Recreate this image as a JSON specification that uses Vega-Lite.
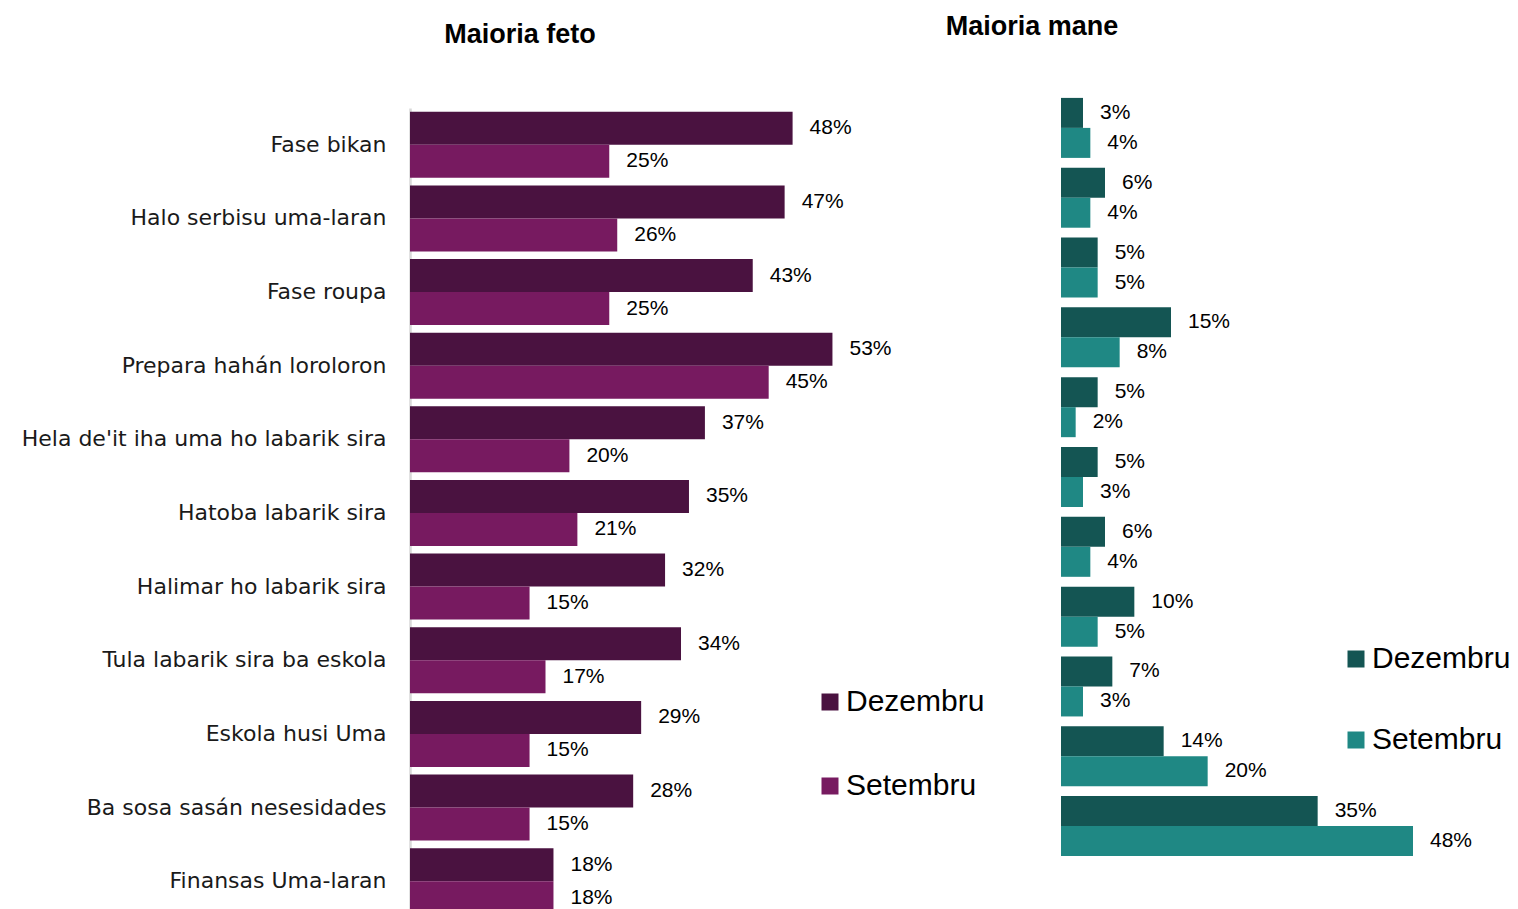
{
  "$schema": "https://vega.github.io/schema/vega-lite/v6.json",
  "background": "white",
  "padding": {"left": 21, "top": 12, "right": 0, "bottom": 0},
  "config": {
    "view": {"stroke": null},
    "font": "Liberation Sans"
  },
  "datasets": {
    "feto": [
      {"kategoria": "Fase bikan", "fulan": "Dezembru", "v": 0.48},
      {"kategoria": "Fase bikan", "fulan": "Setembru", "v": 0.25},
      {"kategoria": "Halo serbisu uma-laran", "fulan": "Dezembru", "v": 0.47},
      {"kategoria": "Halo serbisu uma-laran", "fulan": "Setembru", "v": 0.26},
      {"kategoria": "Fase roupa", "fulan": "Dezembru", "v": 0.43},
      {"kategoria": "Fase roupa", "fulan": "Setembru", "v": 0.25},
      {"kategoria": "Prepara hahán loroloron", "fulan": "Dezembru", "v": 0.53},
      {"kategoria": "Prepara hahán loroloron", "fulan": "Setembru", "v": 0.45},
      {"kategoria": "Hela de'it iha uma ho labarik sira", "fulan": "Dezembru", "v": 0.37},
      {"kategoria": "Hela de'it iha uma ho labarik sira", "fulan": "Setembru", "v": 0.20},
      {"kategoria": "Hatoba labarik sira", "fulan": "Dezembru", "v": 0.35},
      {"kategoria": "Hatoba labarik sira", "fulan": "Setembru", "v": 0.21},
      {"kategoria": "Halimar ho labarik sira", "fulan": "Dezembru", "v": 0.32},
      {"kategoria": "Halimar ho labarik sira", "fulan": "Setembru", "v": 0.15},
      {"kategoria": "Tula labarik sira ba eskola", "fulan": "Dezembru", "v": 0.34},
      {"kategoria": "Tula labarik sira ba eskola", "fulan": "Setembru", "v": 0.17},
      {"kategoria": "Eskola husi Uma", "fulan": "Dezembru", "v": 0.29},
      {"kategoria": "Eskola husi Uma", "fulan": "Setembru", "v": 0.15},
      {"kategoria": "Ba sosa sasán nesesidades", "fulan": "Dezembru", "v": 0.28},
      {"kategoria": "Ba sosa sasán nesesidades", "fulan": "Setembru", "v": 0.15},
      {"kategoria": "Finansas Uma-laran", "fulan": "Dezembru", "v": 0.18},
      {"kategoria": "Finansas Uma-laran", "fulan": "Setembru", "v": 0.18}
    ],
    "mane": [
      {"kategoria": "Fase bikan", "fulan": "Dezembru", "v": 0.03},
      {"kategoria": "Fase bikan", "fulan": "Setembru", "v": 0.04},
      {"kategoria": "Halo serbisu uma-laran", "fulan": "Dezembru", "v": 0.06},
      {"kategoria": "Halo serbisu uma-laran", "fulan": "Setembru", "v": 0.04},
      {"kategoria": "Fase roupa", "fulan": "Dezembru", "v": 0.05},
      {"kategoria": "Fase roupa", "fulan": "Setembru", "v": 0.05},
      {"kategoria": "Prepara hahán loroloron", "fulan": "Dezembru", "v": 0.15},
      {"kategoria": "Prepara hahán loroloron", "fulan": "Setembru", "v": 0.08},
      {"kategoria": "Hela de'it iha uma ho labarik sira", "fulan": "Dezembru", "v": 0.05},
      {"kategoria": "Hela de'it iha uma ho labarik sira", "fulan": "Setembru", "v": 0.02},
      {"kategoria": "Hatoba labarik sira", "fulan": "Dezembru", "v": 0.05},
      {"kategoria": "Hatoba labarik sira", "fulan": "Setembru", "v": 0.03},
      {"kategoria": "Halimar ho labarik sira", "fulan": "Dezembru", "v": 0.06},
      {"kategoria": "Halimar ho labarik sira", "fulan": "Setembru", "v": 0.04},
      {"kategoria": "Tula labarik sira ba eskola", "fulan": "Dezembru", "v": 0.10},
      {"kategoria": "Tula labarik sira ba eskola", "fulan": "Setembru", "v": 0.05},
      {"kategoria": "Eskola husi Uma", "fulan": "Dezembru", "v": 0.07},
      {"kategoria": "Eskola husi Uma", "fulan": "Setembru", "v": 0.03},
      {"kategoria": "Ba sosa sasán nesesidades", "fulan": "Dezembru", "v": 0.14},
      {"kategoria": "Ba sosa sasán nesesidades", "fulan": "Setembru", "v": 0.20},
      {"kategoria": "Finansas Uma-laran", "fulan": "Dezembru", "v": 0.35},
      {"kategoria": "Finansas Uma-laran", "fulan": "Setembru", "v": 0.48}
    ]
  },
  "hconcat": [
    {
      "data": {"name": "feto"},
      "width": 436,
      "height": 810,
      "title": {"text": "Maioria feto", "fontSize": 27, "fontWeight": "bold", "font": "Liberation Sans", "color": "#000000", "anchor": "middle", "dx": -108, "baseline": "alphabetic", "offset": 38},
      "encoding": {
        "y": {"field": "kategoria", "type": "nominal", "sort": null,
              "scale": {"paddingInner": 0.1033, "paddingOuter": 0.0516},
              "axis": {"title": null, "ticks": false, "tickSize": 0, "labelPadding": 24, "labelFont": "DejaVu Sans", "labelFontSize": 22, "labelColor": "#1a1a1a", "labelLimit": 600, "domainColor": "#d9d9d9", "domainWidth": 2.5, "grid": false}},
        "yOffset": {"field": "fulan", "type": "nominal", "sort": ["Dezembru", "Setembru"], "scale": {"range": [0, 66]}},
        "x": {"field": "v", "type": "quantitative", "scale": {"domain": [0, 0.547]}, "axis": null}
      },
      "layer": [
        {
          "mark": {"type": "bar"},
          "encoding": {
            "color": {"field": "fulan", "type": "nominal", "sort": ["Dezembru", "Setembru"],
                      "scale": {"domain": ["Dezembru", "Setembru"], "range": ["#4a1240", "#771a60"]},
                      "legend": {"title": null, "orient": "none", "legendX": 405, "legendY": 579, "symbolType": "square", "symbolSize": 289, "symbolStrokeWidth": 0, "labelFontSize": 30, "labelFont": "Liberation Sans", "labelColor": "#000000", "labelOffset": 1, "rowPadding": 54, "padding": 0, "labelLimit": 400}}
          }
        },
        {
          "mark": {"type": "text", "align": "left", "baseline": "middle", "dx": 17, "fontSize": 21, "font": "Liberation Sans", "color": "#000000"},
          "encoding": {"text": {"field": "v", "type": "quantitative", "format": ".0%"}}
        }
      ]
    },
    {
      "data": {"name": "mane"},
      "width": 440,
      "height": 768,
      "title": {"text": "Maioria mane", "fontSize": 27, "fontWeight": "bold", "font": "Liberation Sans", "color": "#000000", "anchor": "middle", "dx": -249, "baseline": "alphabetic", "offset": 36},
      "encoding": {
        "y": {"field": "kategoria", "type": "nominal", "sort": null,
              "scale": {"paddingInner": 0.1404, "paddingOuter": 0.0702, "range": [-15, 753]},
              "axis": null},
        "yOffset": {"field": "fulan", "type": "nominal", "sort": ["Dezembru", "Setembru"], "scale": {"range": [0, 60]}},
        "x": {"field": "v", "type": "quantitative", "scale": {"domain": [0, 0.6]}, "axis": null}
      },
      "layer": [
        {
          "mark": {"type": "bar"},
          "encoding": {
            "color": {"field": "fulan", "type": "nominal", "sort": ["Dezembru", "Setembru"],
                      "scale": {"domain": ["Dezembru", "Setembru"], "range": ["#145553", "#1f8884"]},
                      "legend": {"title": null, "orient": "none", "legendX": 280, "legendY": 536, "symbolType": "square", "symbolSize": 289, "symbolStrokeWidth": 0, "labelFontSize": 30, "labelFont": "Liberation Sans", "labelColor": "#000000", "labelOffset": 1, "rowPadding": 51, "padding": 0, "labelLimit": 400}}
          }
        },
        {
          "mark": {"type": "text", "align": "left", "baseline": "middle", "dx": 17, "fontSize": 21, "font": "Liberation Sans", "color": "#000000"},
          "encoding": {"text": {"field": "v", "type": "quantitative", "format": ".0%"}}
        }
      ]
    }
  ],
  "spacing": 215,
  "bounds": "flush",
  "resolve": {"scale": {"color": "independent", "yOffset": "independent", "y": "independent", "x": "independent"}}
}
